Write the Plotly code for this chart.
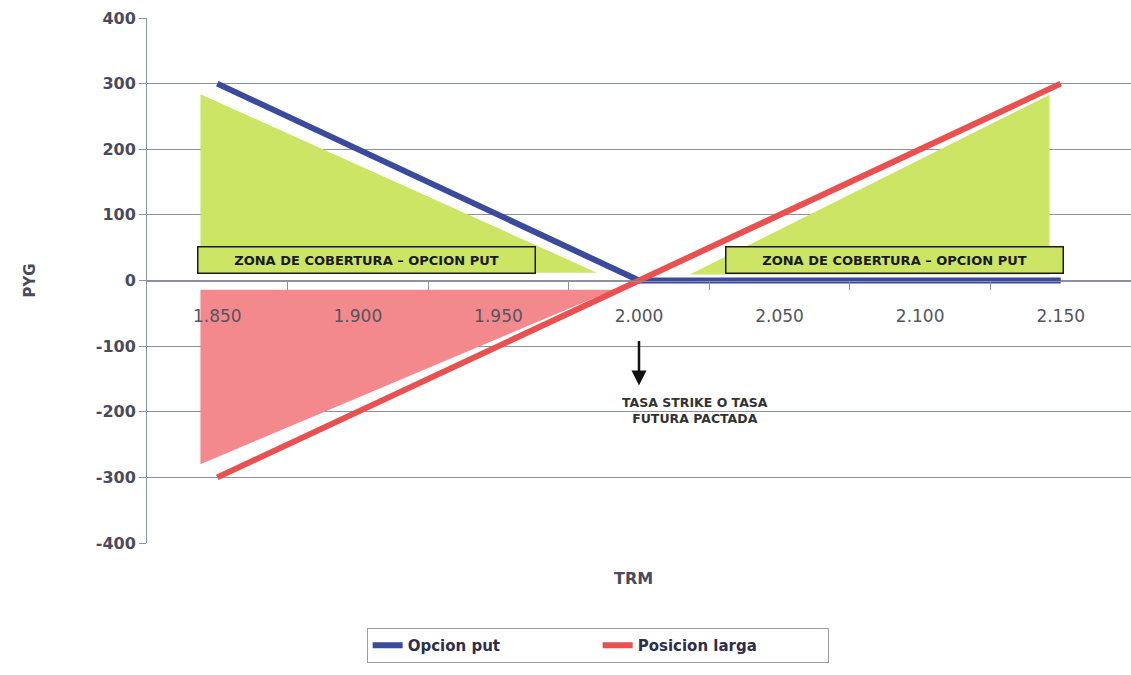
import plotly.graph_objects as go

# TRM levels (categories) and payoff of each position
trm = [1850, 1900, 1950, 2000, 2050, 2100, 2150]
trm_labels = ["1.850", "1.900", "1.950", "2.000", "2.050", "2.100", "2.150"]
opcion_put = [300, 200, 100, 0, 0, 0, 0]
posicion_larga = [-300, -200, -100, 0, 100, 200, 300]

# Shaded zones (TRM, PYG)
zona_put_izq_x = [1844, 1985, 1844]
zona_put_izq_y = [284, 12, 12]
zona_perdida_x = [1844, 1991, 1844]
zona_perdida_y = [-14, -14, -280]
zona_put_der_x = [2018, 2146, 2146]
zona_put_der_y = [9, 283, 9]

y_ticks = [400, 300, 200, 100, 0, -100, -200, -300, -400]
y_labels = ["400", "300", "200", "100", "0", "-100", "-200", "-300", "-400"]

GREEN = "#cce565"
PINK = "#f4898d"
BLUE = "#3a4a9c"
RED = "#e8514f"
GRID = "#8c90a0"
TXT = "#4a4a5c"

fig = go.Figure()

for xs, ys, col in [(zona_put_izq_x, zona_put_izq_y, GREEN),
                    (zona_perdida_x, zona_perdida_y, PINK),
                    (zona_put_der_x, zona_put_der_y, GREEN)]:
    fig.add_trace(go.Scatter(x=xs, y=ys, fill="toself", fillcolor=col,
                             mode="lines", line=dict(width=0, color=col),
                             showlegend=False, hoverinfo="skip"))

fig.add_trace(go.Scatter(x=trm, y=opcion_put, mode="lines", name="Opcion put",
                         line=dict(color=BLUE, width=6)))
fig.add_trace(go.Scatter(x=trm, y=posicion_larga, mode="lines", name="Posicion larga",
                         line=dict(color=RED, width=6)))

fig.update_layout(
    width=1131, height=675,
    margin=dict(l=147, r=0, t=18, b=132),
    paper_bgcolor="white", plot_bgcolor="white",
    font=dict(family="DejaVu Sans", color=TXT),
    xaxis=dict(range=[1825, 2175], tickvals=trm, ticktext=trm_labels,
               anchor="free", position=0.5, showgrid=False, zeroline=False,
               showline=True, linecolor=GRID, linewidth=1,
               ticks="", ticklabelstandoff=20,
               tickfont=dict(size=17, color="#555560"),
               minor=dict(tickvals=[1875, 1925, 1975, 2025, 2075, 2125],
                          ticks="outside", ticklen=8, tickcolor=GRID)),
    yaxis=dict(range=[-400, 400], tickvals=y_ticks, ticktext=y_labels,
               showgrid=True, gridcolor=GRID, gridwidth=1,
               zeroline=True, zerolinecolor=GRID, zerolinewidth=1,
               showline=True, linecolor=GRID, linewidth=1,
               ticks="outside", ticklen=7, tickcolor=GRID,
               tickfont=dict(size=16, color=TXT, weight="bold")),
    legend=dict(orientation="h", x=0.458, xanchor="center", y=-0.162, yanchor="top",
                bordercolor="#9a9aa8", borderwidth=1, bgcolor="white",
                entrywidth=185, entrywidthmode="pixels",
                font=dict(size=15, color="#2e2e4a", weight="bold")),
)

zone_text = "ZONA DE COBERTURA – OPCION PUT"
for xc in [1903, 2091]:
    fig.add_annotation(x=xc, y=32, xref="x", yref="y", text=zone_text, showarrow=False,
                       bgcolor=GREEN, bordercolor="#1a1a1a", borderwidth=1.5,
                       width=334, height=23,
                       font=dict(size=13, color="#1a1a1a", weight="bold"))

# Strike arrow and caption
fig.add_annotation(x=2000, y=-160, ax=2000, ay=-90, axref="x", ayref="y",
                   xref="x", yref="y", text="", showarrow=True,
                   arrowhead=2, arrowsize=1.2, arrowwidth=2.5, arrowcolor="#111111")
fig.add_annotation(x=2020, y=-198, xref="x", yref="y", showarrow=False,
                   text="TASA STRIKE O TASA<br>FUTURA PACTADA",
                   font=dict(size=12.5, color="#333333", weight="bold"))

fig.add_annotation(x=(633 - 147) / 984, y=-(590 - 543) / 525, xref="paper", yref="paper",
                   text="TRM", showarrow=False,
                   font=dict(size=16, color=TXT, weight="bold"))
fig.add_annotation(x=(18 - 147) / 984, y=0.5, xref="paper", yref="paper",
                   text="PYG", showarrow=False, textangle=-90,
                   font=dict(size=15, color=TXT, weight="bold"))

fig.write_html("out.html")
